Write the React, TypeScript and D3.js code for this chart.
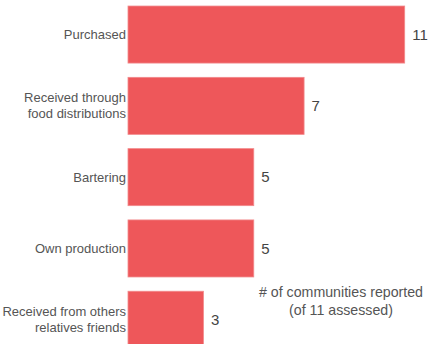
import React from "react";
import * as d3 from "d3";

const categories: string[][] = [
  ["Purchased"],
  ["Received through", "food distributions"],
  ["Bartering"],
  ["Own production"],
  ["Received from others", "relatives friends"],
];
const values: number[] = [11, 7, 5, 5, 3];
const annotation: string[] = ["# of communities reported", "(of 11 assessed)"];

const W = 428;
const H = 344;

export default function App() {
  const keys = categories.map((c) => c.join(" "));
  const y = d3
    .scaleBand<string>()
    .domain(keys)
    .range([-1.1, 355.4])
    .paddingInner(0.2)
    .paddingOuter(0.1);
  const x = d3.scaleLinear().domain([0, 11]).range([128, 404.7]);
  const font = "'Liberation Sans', Arial, sans-serif";
  return (
    <svg
      width={W}
      height={H}
      style={{ position: "fixed", left: 0, top: 0, background: "#fff" }}
      fontFamily={font}
    >
      {keys.map((k, i) => {
        const y0 = y(k)!;
        const bw = y.bandwidth();
        const cy = y0 + bw / 2;
        const lines = categories[i];
        const lh = 16;
        return (
          <g key={k}>
            <rect
              x={x(0)}
              y={y0}
              width={x(values[i]) - x(0)}
              height={bw}
              fill="#EE575A"
              stroke="#F28A8C"
              strokeWidth={0.8}
            />
            {lines.map((ln, j) => (
              <text
                key={j}
                x={126}
                y={cy + (j - (lines.length - 1) / 2) * lh}
                dy="0.35em"
                textAnchor="end"
                fontSize={13}
                fill="#555"
              >
                {ln}
              </text>
            ))}
            <text
              x={x(values[i]) + 7.5}
              y={cy}
              dy="0.35em"
              fontSize={15}
              fill="#444"
            >
              {values[i]}
            </text>
          </g>
        );
      })}
      {annotation.map((t, j) => (
        <text
          key={j}
          x={341}
          y={292 + j * 18}
          dy="0.35em"
          textAnchor="middle"
          fontSize={14.2}
          fill="#555"
        >
          {t}
        </text>
      ))}
    </svg>
  );
}
